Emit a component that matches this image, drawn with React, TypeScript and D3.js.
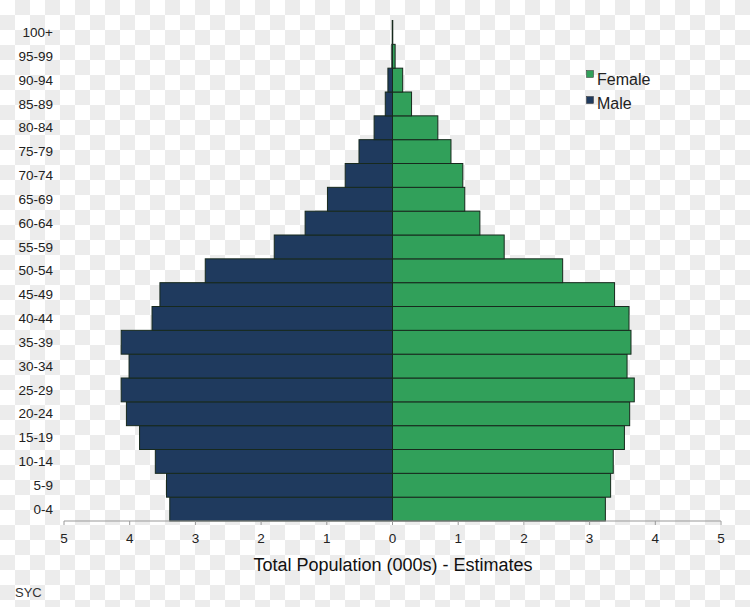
import React from "react";
import * as d3 from "d3";

const ageGroups = ["0-4","5-9","10-14","15-19","20-24","25-29","30-34","35-39","40-44","45-49","50-54","55-59","60-64","65-69","70-74","75-79","80-84","85-89","90-94","95-99","100+"];
const maleValues = [3.39,3.44,3.61,3.85,4.05,4.13,4.01,4.13,3.66,3.54,2.85,1.80,1.33,0.99,0.72,0.51,0.28,0.11,0.07,0.01,0.004];
const femaleValues = [3.24,3.32,3.36,3.53,3.61,3.68,3.57,3.63,3.60,3.38,2.59,1.70,1.33,1.10,1.07,0.89,0.69,0.29,0.155,0.04,0.004];
const xTicks = [-5,-4,-3,-2,-1,0,1,2,3,4,5];
const legendItems = [{ label: "Female", color: "#31a05a" }, { label: "Male", color: "#1f3a5e" }];

const W = 750, H = 607;
const MALE = "#1f3a5e", FEMALE = "#31a05a", STROKE = "#17291d";
const FONT = "'Liberation Sans', Arial, sans-serif";

export default function App() {
  const x = d3.scaleLinear().domain([-5, 5]).range([64, 721]);
  const y = d3.scaleBand<string>().domain([...ageGroups].reverse()).range([20.5, 521]).padding(0);
  const bw = y.bandwidth();
  return (
    <svg width={W} height={H} style={{ position: "absolute", left: 0, top: 0 }}>
      <defs>
        <pattern id="checker" width={30} height={30} patternUnits="userSpaceOnUse">
          <rect width={30} height={30} fill="#ffffff" />
          <rect x={15} y={0} width={15} height={15} fill="#ececec" />
          <rect x={0} y={15} width={15} height={15} fill="#ececec" />
        </pattern>
      </defs>
      <rect width={W} height={H} fill="url(#checker)" />
      {ageGroups.map((g, i) => (
        <g key={g}>
          <rect x={x(-maleValues[i])} y={y(g)} width={x(0) - x(-maleValues[i])} height={bw} fill={MALE} stroke={STROKE} strokeWidth={1} />
          <rect x={x(0)} y={y(g)} width={x(femaleValues[i]) - x(0)} height={bw} fill={FEMALE} stroke={STROKE} strokeWidth={1} />
          <text x={53} y={(y(g) as number) + bw / 2} dy="0.35em" textAnchor="end" fontFamily={FONT} fontSize={13.5} fill="#222">{g}</text>
        </g>
      ))}
      <line x1={x(-5)} x2={x(5)} y1={521} y2={521} stroke="#999" strokeWidth={1} />
      {xTicks.map((t) => (
        <g key={t}>
          <line x1={x(t)} x2={x(t)} y1={521} y2={525} stroke="#999" strokeWidth={1} />
          <text x={x(t)} y={538} dy="0.35em" textAnchor="middle" fontFamily={FONT} fontSize={13.5} fill="#222">{Math.abs(t)}</text>
        </g>
      ))}
      <text x={393} y={565} dy="0.35em" textAnchor="middle" fontFamily={FONT} fontSize={18} fill="#111">Total Population (000s) - Estimates</text>
      {legendItems.map((l, i) => (
        <g key={l.label}>
          <rect x={586.5} y={70.5 + i * 26} width={7} height={7} fill={l.color} stroke="#333" strokeWidth={0.5} />
          <text x={597} y={79 + i * 24} dy="0.35em" fontFamily={FONT} fontSize={16} fill="#222">{l.label}</text>
        </g>
      ))}
      <text x={15} y={592} dy="0.35em" fontFamily={FONT} fontSize={13} fill="#333">SYC</text>
    </svg>
  );
}
